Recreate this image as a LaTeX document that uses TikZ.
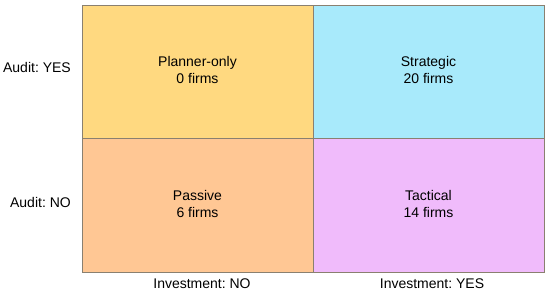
\documentclass[tikz,border=0pt]{standalone}
\usepackage{fontspec}
\setmainfont{Liberation Sans}
\frenchspacing
\definecolor{cyel}{HTML}{FFD980}
\definecolor{ccya}{HTML}{A8EAFB}
\definecolor{cora}{HTML}{FFC794}
\definecolor{cpur}{HTML}{F0BBFB}
\definecolor{cedge}{HTML}{8A8070}
\begin{document}
\begin{tikzpicture}[x=1pt,y=-1pt,
  quad/.style={draw=cedge,line width=0.8pt},
  qtext/.style={align=center,font=\fontsize{14}{17}\selectfont,inner sep=0pt},
  axlabel/.style={font=\fontsize{14}{17}\selectfont,inner sep=0pt}]
\useasboundingbox (0,0) rectangle (550,296);
\fill[white] (0,0) rectangle (550,296);
\path[quad,fill=cyel] (82,5) rectangle (313,138);
\path[quad,fill=ccya] (313,5) rectangle (544,138);
\path[quad,fill=cora] (82,138) rectangle (313,272);
\path[quad,fill=cpur] (313,138) rectangle (544,272);
\node[qtext] (q1) at (197.5,70) {Planner-only\\0 firms};
\node[qtext] (q2) at (428.5,70) {Strategic\\20 firms};
\node[qtext] (q3) at (197.5,204) {Passive\\6 firms};
\node[qtext] (q4) at (428.5,204) {Tactical\\14 firms};
\node[axlabel,anchor=east] (ay) at (71,67) {Audit: YES};
\node[axlabel,anchor=east] (an) at (71,202) {Audit: NO};
\node[axlabel] (in) at (202,284) {Investment: NO};
\node[axlabel] (iy) at (432,284) {Investment: YES};
\end{tikzpicture}
\end{document}
